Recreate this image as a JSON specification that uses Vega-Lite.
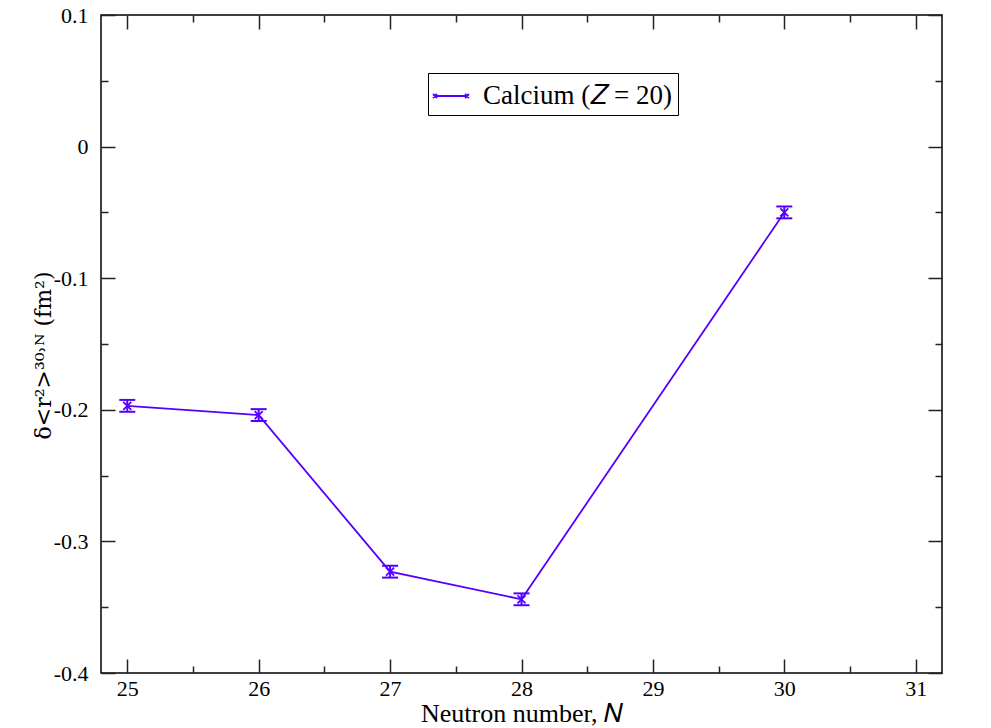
{
  "$schema": "https://vega.github.io/schema/vega-lite/v6.json",
  "width": 841,
  "height": 658,
  "autosize": {"type": "none"},
  "padding": {"left": 101, "top": 15, "right": 49, "bottom": 55},
  "background": "white",
  "config": {
    "view": {"stroke": "#000", "strokeWidth": 1.5},
    "font": "Liberation Serif",
    "axis": {"grid": false, "domain": false, "tickColor": "#222", "tickWidth": 1.5, "labelFont": "Liberation Serif", "labelFontSize": 22, "labelColor": "#000", "titleFont": "Liberation Serif", "titleFontWeight": "normal", "titleColor": "#000", "titleFontSize": 26}
  },
  "data": {
    "values": [
      {"N": 25, "r": -0.197, "lo": -0.2015, "hi": -0.1925, "series": "Calcium (𝑍 = 20)"},
      {"N": 26, "r": -0.204, "lo": -0.2085, "hi": -0.1995, "series": "Calcium (𝑍 = 20)"},
      {"N": 27, "r": -0.323, "lo": -0.3275, "hi": -0.3185, "series": "Calcium (𝑍 = 20)"},
      {"N": 28, "r": -0.344, "lo": -0.3485, "hi": -0.3395, "series": "Calcium (𝑍 = 20)"},
      {"N": 30, "r": -0.050, "lo": -0.0545, "hi": -0.0455, "series": "Calcium (𝑍 = 20)"}
    ]
  },
  "resolve": {"axis": {"x": "independent", "y": "independent"}},
  "layer": [
    {
      "mark": {"type": "line", "strokeWidth": 1.8},
      "encoding": {
        "x": {"field": "N", "type": "quantitative", "scale": {"domain": [24.8, 31.2], "nice": false, "zero": false},
          "axis": {"orient": "bottom", "title": "Neutron number, 𝑁", "values": [25, 25.5, 26, 26.5, 27, 27.5, 28, 28.5, 29, 29.5, 30, 30.5, 31],
            "tickSize": {"condition": {"test": "abs(datum.value - round(datum.value)) < 0.01", "value": -14}, "value": -7},
            "labelExpr": "abs(datum.value - round(datum.value)) < 0.01 ? toString(round(datum.value)) : ''",
            "labelFontSize": 22, "labelFont": "Liberation Serif",
            "labelPadding": 19, "titleY": 48, "titleBaseline": "alphabetic"}},
        "y": {"field": "r", "type": "quantitative", "scale": {"domain": [-0.4, 0.1], "nice": false, "zero": false},
          "axis": {"orient": "left", "title": "δ<r²>³⁰˒ᴺ (fm²)", "titleFont": "DejaVu Serif", "titleFontSize": 22, "values": [-0.4, -0.35, -0.3, -0.25, -0.2, -0.15, -0.1, -0.05, 0, 0.05, 0.1],
            "tickSize": {"condition": {"test": "abs(datum.value*10 - round(datum.value*10)) < 0.01", "value": -14}, "value": -7},
            "labelExpr": "abs(datum.value*10 - round(datum.value*10)) < 0.01 ? (abs(datum.value) < 0.001 ? '0' : toString(round(datum.value*10)/10)) : ''",
            "labelFontSize": 22, "labelFont": "Liberation Serif",
            "labelPadding": 27, "titleX": -58, "titleY": 340, "titleAngle": -90, "titleBaseline": "middle", "titleAlign": "center"}},
        "color": {"field": "series", "type": "nominal", "scale": {"range": ["#5500ff"]},
          "legend": {"title": null, "orient": "none", "legendX": 327, "legendY": 58, "strokeColor": "#000", "fillColor": "white", "padding": 6,
            "labelFont": "Liberation Serif", "labelFontSize": 27, "labelColor": "#000", "labelLimit": 400,
            "symbolType": "M-1,0H1M-1.12,-0.12L-0.88,0.12M-1.12,0.12L-0.88,-0.12M0.88,-0.12L1.12,0.12M0.88,0.12L1.12,-0.12",
            "symbolSize": 1024, "symbolStrokeWidth": 2, "symbolFillColor": "transparent", "symbolStrokeColor": "#5500ff", "labelOffset": 15}}
      }
    },
    {
      "mark": {"type": "rule", "strokeWidth": 2, "color": "#5500ff"},
      "encoding": {
        "x": {"field": "N", "type": "quantitative", "scale": {"domain": [24.8, 31.2], "nice": false, "zero": false},
          "axis": {"orient": "top", "title": null, "labels": false, "values": [25, 25.5, 26, 26.5, 27, 27.5, 28, 28.5, 29, 29.5, 30, 30.5, 31],
            "tickSize": {"condition": {"test": "abs(datum.value - round(datum.value)) < 0.01", "value": -14}, "value": -7}}},
        "y": {"field": "lo", "type": "quantitative", "scale": {"domain": [-0.4, 0.1], "nice": false, "zero": false},
          "axis": {"orient": "right", "title": null, "labels": false, "values": [-0.4, -0.35, -0.3, -0.25, -0.2, -0.15, -0.1, -0.05, 0, 0.05, 0.1],
            "tickSize": {"condition": {"test": "abs(datum.value*10 - round(datum.value*10)) < 0.01", "value": -14}, "value": -7}}},
        "y2": {"field": "hi"}
      }
    },
    {
      "mark": {"type": "tick", "orient": "horizontal", "size": 16, "thickness": 2, "color": "#5500ff", "opacity": 1},
      "encoding": {
        "x": {"field": "N", "type": "quantitative", "axis": null},
        "y": {"field": "lo", "type": "quantitative", "axis": null}
      }
    },
    {
      "mark": {"type": "tick", "orient": "horizontal", "size": 16, "thickness": 2, "color": "#5500ff", "opacity": 1},
      "encoding": {
        "x": {"field": "N", "type": "quantitative", "axis": null},
        "y": {"field": "hi", "type": "quantitative", "axis": null}
      }
    },
    {
      "mark": {"type": "point", "shape": "M-1,-1L1,1M-1,1L1,-1", "size": 64, "strokeWidth": 1.8, "color": "#5500ff", "filled": false, "opacity": 1},
      "encoding": {
        "x": {"field": "N", "type": "quantitative", "axis": null},
        "y": {"field": "r", "type": "quantitative", "axis": null}
      }
    }
  ]
}
